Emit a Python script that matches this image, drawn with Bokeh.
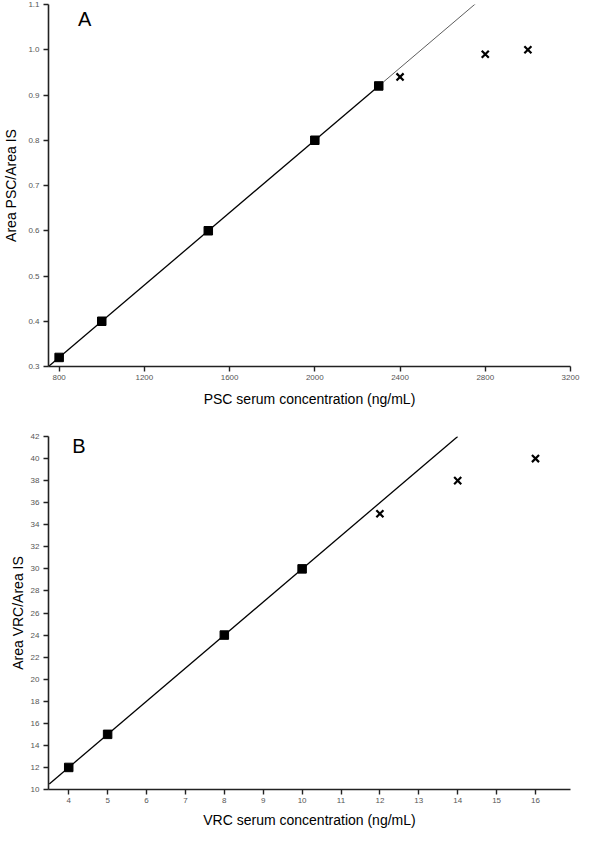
from bokeh.plotting import figure
from bokeh.layouts import column
from bokeh.models import Range1d, FixedTicker, Label
from bokeh.embed import file_html
from bokeh.resources import INLINE

# Panel A data
a_cal_x = [800, 1000, 1500, 2000, 2300]
a_cal_y = [0.32, 0.40, 0.60, 0.80, 0.92]
a_out_x = [2400, 2800, 3000]
a_out_y = [0.94, 0.99, 1.00]
a_fit_x = [750, 2300]
a_fit_y = [0.30, 0.92]
a_ext_x = [2300, 2775]
a_ext_y = [0.92, 1.11]
a_xticks = [800, 1200, 1600, 2000, 2400, 2800, 3200]
a_yticks = [0.3, 0.4, 0.5, 0.6, 0.7, 0.8, 0.9, 1.0, 1.1]
a_ylabels = ["0.3", "0.4", "0.5", "0.6", "0.7", "0.8", "0.9", "1.0", "1.1"]

# Panel B data
b_cal_x = [4, 5, 8, 10]
b_cal_y = [12, 15, 24, 30]
b_out_x = [12, 14, 16]
b_out_y = [35, 38, 40]
b_fit_x = [3.5, 14]
b_fit_y = [10.5, 42]
b_xticks = [4, 5, 6, 7, 8, 9, 10, 11, 12, 13, 14, 15, 16]
b_yticks = list(range(10, 43, 2))

FONT = "Liberation Sans"


def style(p):
    p.xgrid.visible = False
    p.ygrid.visible = False
    p.outline_line_color = None
    for ax in (p.xaxis[0], p.yaxis[0]):
        ax.axis_line_color = "#222222"
        ax.axis_line_width = 1.6
        ax.major_tick_line_color = "#222222"
        ax.major_tick_line_width = 1.4
        ax.major_tick_out = 5
        ax.major_tick_in = 0
        ax.minor_tick_line_color = None
        ax.major_label_text_font = FONT
        ax.major_label_text_font_size = "8px"
        ax.major_label_text_color = "#555555"
        ax.major_label_standoff = 3
        ax.axis_label_text_font = FONT
        ax.axis_label_text_font_size = "14px"
        ax.axis_label_text_font_style = "normal"
        ax.axis_label_text_color = "#000000"
    p.yaxis.major_label_standoff = 4


# ---- Panel A ----
p1 = figure(width=584, height=412, x_range=Range1d(750, 3200), y_range=Range1d(0.3, 1.1),
            output_backend="svg", toolbar_location=None,
            min_border_left=47, min_border_right=8, min_border_top=4, min_border_bottom=46)
style(p1)
p1.xaxis.ticker = FixedTicker(ticks=a_xticks)
p1.yaxis.ticker = FixedTicker(ticks=a_yticks)
p1.yaxis.major_label_overrides = {t: l for t, l in zip(a_yticks, a_ylabels)}
p1.xaxis.axis_label = "PSC serum concentration (ng/mL)"
p1.yaxis.axis_label = "Area PSC/Area IS"
p1.xaxis.axis_label_standoff = 8
p1.yaxis.axis_label_standoff = 6

p1.line(a_fit_x, a_fit_y, line_color="black", line_width=1.3)
p1.line(a_ext_x, a_ext_y, line_color="#333333", line_width=0.8)
p1.scatter(a_cal_x, a_cal_y, marker="square", size=8.5, fill_color="black", line_color="black")
p1.scatter(a_out_x, a_out_y, marker="x", size=10, line_color="black", line_width=2.2)
p1.add_layout(Label(x=888, y=1.069, text="A", text_font=FONT, text_font_size="20px",
                    text_color="black", text_baseline="middle", text_align="left"))

# ---- Panel B ----
p2 = figure(width=584, height=418, x_range=Range1d(3.48, 16.9), y_range=Range1d(10, 42),
            output_backend="svg", toolbar_location=None,
            min_border_left=45, min_border_right=14, min_border_top=24, min_border_bottom=40)
style(p2)
p2.xaxis.ticker = FixedTicker(ticks=b_xticks)
p2.yaxis.ticker = FixedTicker(ticks=b_yticks)
p2.xaxis.axis_label = "VRC serum concentration (ng/mL)"
p2.yaxis.axis_label = "Area VRC/Area IS"
p2.xaxis.axis_label_standoff = 6
p2.yaxis.axis_label_standoff = 2

p2.line(b_fit_x, b_fit_y, line_color="black", line_width=1.3)
p2.scatter(b_cal_x, b_cal_y, marker="square", size=8.5, fill_color="black", line_color="black")
p2.scatter(b_out_x, b_out_y, marker="x", size=10, line_color="black", line_width=2.2)
p2.add_layout(Label(x=4.09, y=41.18, text="B", text_font=FONT, text_font_size="20px",
                    text_color="black", text_baseline="middle", text_align="left"))

layout = column(p1, p2, spacing=0)
open("out.html", "w").write(file_html(layout, INLINE))
